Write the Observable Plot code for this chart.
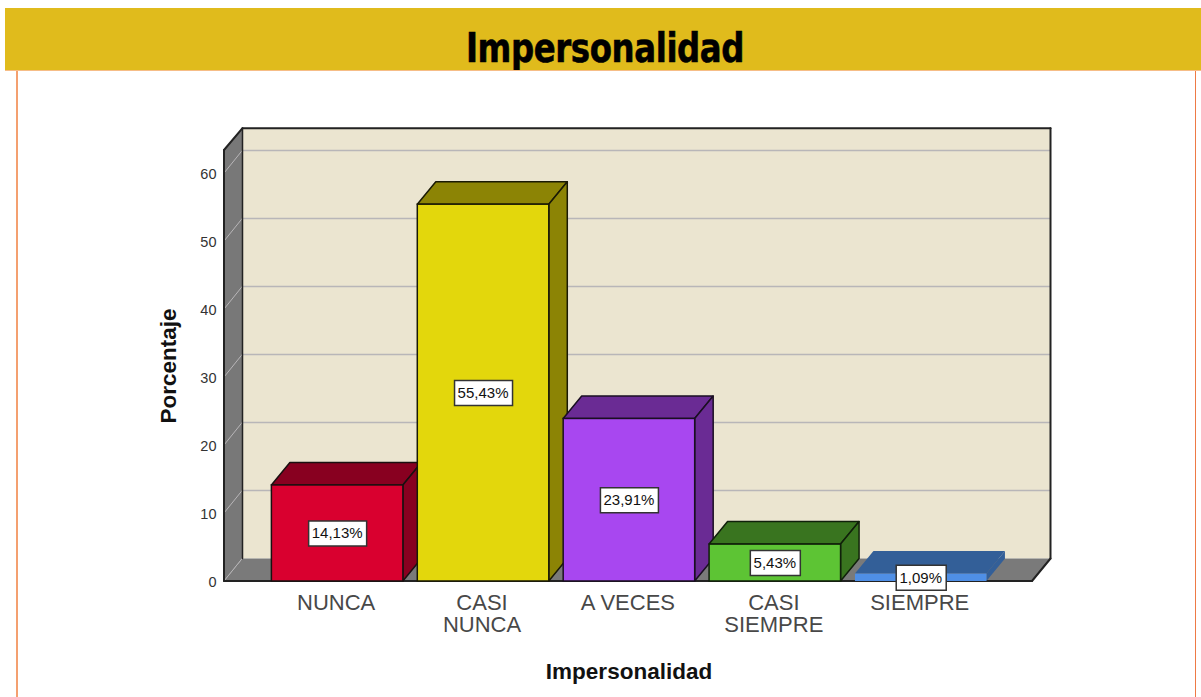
<!DOCTYPE html>
<html><head><meta charset="utf-8">
<script src="https://cdn.jsdelivr.net/npm/d3@7"></script>
<script src="https://cdn.jsdelivr.net/npm/@observablehq/plot@0.6"></script>
<style>
html,body{margin:0;padding:0;background:#fff;overflow:hidden}
#page{position:relative;width:1201px;height:697px}
#banner{position:absolute;left:5px;top:8px;width:1196px;height:63px;box-sizing:border-box;background:#e0bb1c;border-bottom:1px solid #f6bd87;overflow:hidden;color:#000}
#banner span{position:absolute;left:0;width:1200px;text-align:center;top:17px;font:bold 36px/46px "DejaVu Sans Condensed","DejaVu Sans",sans-serif;font-stretch:condensed;letter-spacing:-.4px;-webkit-text-stroke:.5px #000;transform:scaleY(1.15);transform-origin:50% 50%}
#edges{position:absolute;left:16px;top:71px;width:1180px;height:626px;box-sizing:border-box;border-left:2px solid #f4a070;border-right:1px solid #ee7a45}
#chart{position:absolute;left:0;top:71px}
svg{display:block;background:transparent!important}
</style></head>
<body><div id="page">
<div id="edges"></div>
<div id="banner"><span>Impersonalidad</span></div>
<div id="chart"></div>
</div>
<script>
const categories = ["NUNCA","CASI\nNUNCA","A VECES","CASI\nSIEMPRE","SIEMPRE"];
const percentages = [14.13,55.43,23.91,5.43,1.09];
const valueLabels = ["14,13%","55,43%","23,91%","5,43%","1,09%"];
const faceColors = ["#d9002f","#e3d70c","#a847f0","#5dc434","#4f8fe6"];
const shadeColors = ["#880020","#8c8405","#6a2b94","#39741f","#335f98"];
const outlineColors = ["#1a1010","#1a1a05","#1a0f22","#10200a","none"];
const yTicks = [0,10,20,30,40,50,60];
const depthX = 18.5, depthY = -22.5, gridDy = -23, wallTopDy = -21.8;
const rows = categories.map((c,i)=>({c,v:percentages[i],label:valueLabels[i],face:faceColors[i],shade:shadeColors[i],line:outlineColors[i]}));
const poly = (pts,fill,stroke,sw)=>{
  const p=document.createElementNS("http://www.w3.org/2000/svg","polygon");
  p.setAttribute("points",pts.map(d=>d.join(",")).join(" "));
  p.setAttribute("fill",fill);p.setAttribute("stroke",stroke);p.setAttribute("stroke-width",sw);p.setAttribute("stroke-linejoin","round");
  return p;
};
const group=()=>document.createElementNS("http://www.w3.org/2000/svg","g");
// walls and floor, built from the scale ranges
const room=(index,{x,y},values,{marginLeft:l,width:w,marginRight:r,height:h,marginBottom:b,marginTop:t})=>{
  const g=group(), R=w-r, B=h-b, T=t, dx=depthX, dy=depthY;
  g.appendChild(poly([[l+dx,T+wallTopDy],[R+dx,T+wallTopDy],[R+dx,B+dy],[l+dx,B+dy]],"#ebe5d0","none",0));
  g.appendChild(poly([[l,B],[l+dx,B+dy],[R+dx,B+dy],[R,B]],"#7a7a7a","none",0));
  g.appendChild(poly([[l,T],[l+dx,T+wallTopDy],[l+dx,B+dy],[l,B]],"#787878","none",0));
  return g;
};
const sideGrid=(index,{y},values,{marginLeft:l})=>{
  const g=group();
  yTicks.forEach(t=>{
    const ln=document.createElementNS("http://www.w3.org/2000/svg","line");
    ln.setAttribute("x1",l);ln.setAttribute("y1",y(t));ln.setAttribute("x2",l+depthX);ln.setAttribute("y2",y(t)+gridDy);
    ln.setAttribute("stroke","#b8b6b8");ln.setAttribute("stroke-width",1);g.appendChild(ln);
  });
  return g;
};
const roomEdges=(index,{x,y},values,{marginLeft:l,width:w,marginRight:r,height:h,marginBottom:b,marginTop:t})=>{
  const g=group(), R=w-r, B=h-b, T=t, dx=depthX, dy=depthY, c="#222";
  const seg=(a,e,sw=2)=>{const p=poly([a,e],"none",c,sw);g.appendChild(p);};
  seg([l+dx,T+wallTopDy],[R+dx,T+wallTopDy]); seg([R+dx,T+wallTopDy],[R+dx,B+dy]); seg([R+dx,B+dy],[R,B]);
  seg([R,B],[l,B]); seg([l,B],[l,T]); seg([l,T],[l+dx,T+wallTopDy]); seg([l+dx,T+wallTopDy],[l+dx,B+dy],1.5);
  return g;
};
// front face comes from barY; the top and side faces are added from the same scale positions
const prism=(index,scales,values,dims,context,next)=>{
  const g=group();
  const front=next(index,scales,values,dims,context);
  for(const i of index){
    const d=rows[i], x1=values.x[i], x2=x1+scales.x.bandwidth(), yTop=scales.y(d.v), y0=scales.y(0);
    const sw=d.line==="none"?0:1.5;
    g.appendChild(poly([[x1,yTop],[x1+depthX,yTop+depthY],[x2+depthX,yTop+depthY],[x2,yTop]],d.shade,d.line,sw));
    g.appendChild(poly([[x2,yTop],[x2+depthX,yTop+depthY],[x2+depthX,y0+depthY],[x2,y0]],d.shade,d.line,sw));
  }
  g.appendChild(front);
  return g;
};
const box=w=>({draw(ctx){ctx.moveTo(-w/2,-12.5);ctx.lineTo(w/2,-12.5);ctx.lineTo(w/2,12.5);ctx.lineTo(-w/2,12.5);ctx.closePath();}});
const chart=Plot.plot({
  width:1201,height:626,marginLeft:224,marginRight:169,marginTop:79,marginBottom:116,
  style:{fontFamily:"'Liberation Sans',Arial,sans-serif",background:"transparent"},
  x:{domain:categories,paddingInner:0.0987,paddingOuter:0.3185,align:0.51,round:false,label:null},
  y:{domain:[0,63.4],label:null},
  marks:[
    room,
    Plot.ruleY(yTicks.slice(1),{dx:depthX,dy:gridDy,stroke:"#b8b6b8",strokeWidth:1.5}),
    sideGrid,
    roomEdges,
    Plot.axisY({ticks:yTicks,tickSize:0,tickPadding:8,fontSize:14.5,label:null,color:"#333",dy:1}),
    Plot.axisX({tickSize:0,tickPadding:13,fontSize:22,lineHeight:1,label:null,color:"#484848",dx:-1.5}),
    Plot.barY(rows,{x:"c",y:"v",fill:"face",stroke:"line",strokeWidth:1.5,render:prism}),
    Plot.dot(rows.filter(d=>d.label.length===6),{x:"c",y:d=>d.v/2,symbol:box(58),r:1,fill:"#fff",stroke:"#333",strokeWidth:1.5}),
    Plot.dot(rows.filter(d=>d.label.length===5),{x:"c",y:d=>d.v/2,symbol:box(50),r:1,fill:"#fff",stroke:"#333",strokeWidth:1.5}),
    Plot.text(rows,{x:"c",y:d=>d.v/2,text:"label",fontSize:15,fill:"#111",dx:-0.5}),
    Plot.text(["Porcentaje"],{frameAnchor:"middle",rotate:-90,fontWeight:"bold",fontSize:22.5,fill:"#111",
      dx:-(224+(1201-169-224)/2-168)}),
    Plot.text(["Impersonalidad"],{frameAnchor:"bottom",fontWeight:"bold",fontSize:22.5,fill:"#111",dy:97,dx:0.5,textAnchor:"middle"})
  ]
});
document.getElementById("chart").appendChild(chart);
</script>
</body></html>
